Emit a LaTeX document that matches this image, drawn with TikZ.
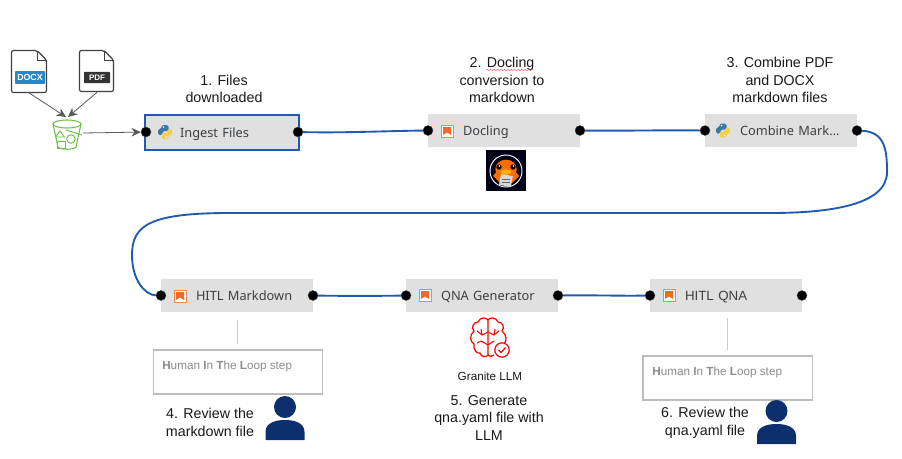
\documentclass[tikz,border=0pt]{standalone}
\usepackage{fontspec}
\usepackage{xcolor}
\setmainfont{Liberation Sans}
\newfontfamily\stepfont{Noto Sans}
\usetikzlibrary{arrows.meta,decorations.pathmorphing}

\definecolor{stepgray}{HTML}{E0E0E0}
\definecolor{steptext}{HTML}{3C3F42}
\definecolor{wireblue}{HTML}{1F5AB0}
\definecolor{bordergray}{HTML}{BDBDBD}
\definecolor{personblue}{HTML}{0C2F6E}
\definecolor{bucketgreen}{HTML}{6CC04A}
\definecolor{iconorange}{HTML}{EC6A2C}
\definecolor{pyblue}{HTML}{3B77A8}
\definecolor{pyyellow}{HTML}{F7CF45}
\definecolor{docxblue}{HTML}{2B86C5}

\tikzset{
  stepbox/.style={fill=stepgray, font=\stepfont\fontsize{9.6}{11}\selectfont, text=steptext,
    text width=114pt, minimum height=24.75pt, inner xsep=0pt, inner ysep=0pt, outer sep=0pt, align=left,
    text height=8pt, text depth=0pt, execute at begin node={\hspace*{26.25pt}}},
  port/.style={circle, fill=black, draw=black!70, line width=.3pt, minimum size=7.5pt, inner sep=0pt},
  wire/.style={draw=wireblue, line width=1.4pt},
  caption/.style={align=center, font=\fontsize{10.7}{13.2}\selectfont, text=black!90, inner sep=0pt},
  hitlbox/.style={draw=bordergray, line width=1pt, fill=white, minimum width=127pt, minimum height=33pt, inner sep=0pt},
  hitltext/.style={anchor=west, font=\fontsize{8.8}{10}\selectfont, text=black!45, inner sep=0pt},
  hitlline/.style={draw=black!20, line width=.7pt},
  filearrow/.style={draw=black!65, line width=.6pt, -{Stealth[length=7pt,width=6.5pt]}},
  fileicon/.style={minimum width=27pt, minimum height=32pt, inner sep=0pt, outer sep=0pt},
  pics/pyicon/.style={code={
    \foreach \c/\r in {pyblue/0,pyyellow/180}{
      \begin{scope}[rotate=\r]
      \fill[\c, rounded corners=1.2pt] (-3.5,-7) -- (3.5,-7) -- (3.5,-1) -- (-2.5,-1) -- (-2.5,3) -- (-7,3) -- (-7,-3) -- (-3.5,-3) -- cycle;
      \fill[white] (-1.5,-5) circle (.6pt);
      \end{scope}}
  }},
  pics/orangeicon/.style={code={
    \draw[iconorange!80!white, line width=.7pt, fill=white] (-6,-6) rectangle (6,6);
    \fill[iconorange] (-4,-4) -- (4,-4) -- (4,4) -- (0,1.5) -- (-4,4) -- cycle;
  }},
  pics/person/.style={code={
    \fill[personblue] (0,-16) circle (8.25pt);
    \fill[personblue] (-19.5,17) -- (-19.5,9) .. controls (-19.5,0) and (-10,-3) .. (0,-3) .. controls (10,-3) and (19.5,0) .. (19.5,9) -- (19.5,17) -- cycle;
  }},
}

\begin{document}
\begin{tikzpicture}[x=0.75pt,y=-0.75pt]
\useasboundingbox (0,0) rectangle (902,458);

% steps
\node[stepbox, draw=wireblue, line width=1.5pt, text width=115.5pt, minimum height=26.25pt] (ingest) at (222,132) {Ingest Files};
\node[stepbox] (docling) at (504,130.5) {Docling};
\node[stepbox] (combine) at (781,130.5) {Combine Mark\dots};
\node[stepbox] (hitlmd) at (237,295.5) {HITL Markdown};
\node[stepbox] (qna) at (482,295.5) {QNA Generator};
\node[stepbox, font=\fontsize{10}{11}\selectfont] (hitlqna) at (726,295.5) {HITL QNA};

% ports
\node[port] (ingestin) at (146,132) {};
\node[port] (ingestout) at (298,132) {};
\node[port] (doclingin) at (docling.west) {};
\node[port] (doclingout) at (docling.east) {};
\node[port] (combinein) at (combine.west) {};
\node[port] (combineout) at (combine.east) {};
\node[port] (hitlmdin) at (hitlmd.west) {};
\node[port] (hitlmdout) at (hitlmd.east) {};
\node[port] (qnain) at (qna.west) {};
\node[port] (qnaout) at (qna.east) {};
\node[port] (hitlqnain) at (hitlqna.west) {};
\node[port] (hitlqnaout) at (hitlqna.east) {};

% wires
\draw[wire] (ingestout) .. controls (345,133) and (385,131) .. (doclingin);
\draw[wire] (doclingout) .. controls (625,131) and (660,130) .. (combinein);
\draw[wire] (combineout) .. controls (885,132) and (887,150) .. (887,172) .. controls (887,205) and (830,213) .. (770,213) -- (230,213) .. controls (150,213) and (132,225) .. (132,255) .. controls (132,280) and (145,295) .. (hitlmdin);
\draw[wire] (hitlmdout) .. controls (345,296) and (375,296) .. (qnain);
\draw[wire] (qnaout) .. controls (590,295) and (620,296) .. (hitlqnain);

% icons in the steps
\pic at (165,132) {pyicon};
\pic at (723,130.5) {pyicon};
\pic at (447,131) {orangeicon};
\pic at (180,296) {orangeicon};
\pic at (425,295) {orangeicon};
\pic at (669,295) {orangeicon};

% files and bucket
\node[fileicon] (docxfile) at (29,71.5) {};
\node[fileicon] (pdffile) at (97,71) {};
\draw[black!75, line width=.9pt, rounded corners=1.5pt, fill=white] (11.5,50.5) -- (37,50.5) -- (46.5,60) -- (46.5,92.5) -- (11.5,92.5) -- cycle;
\draw[black!75, line width=.7pt] (37,50.5) -- (37,60) -- (46.5,60);
\node[fill=docxblue, text=white, font=\bfseries\fontsize{6.6}{7}\selectfont, inner sep=0pt, minimum width=22.5pt, minimum height=9.5pt, rounded corners=.6pt] (docxtag) at (30,77.5) {DOCX};
\draw[black!75, line width=.9pt, rounded corners=1.5pt, fill=white] (79.5,50.5) -- (104,50.5) -- (113.5,60) -- (113.5,91.5) -- (79.5,91.5) -- cycle;
\draw[black!75, line width=.7pt] (104,50.5) -- (104,60) -- (113.5,60);
\node[fill=black!80, text=white, font=\bfseries\fontsize{6}{7}\selectfont, inner sep=0pt, minimum width=19.5pt, minimum height=8.5pt, rounded corners=.6pt] (pdftag) at (97,77.5) {PDF};

\node[minimum width=22pt, minimum height=24pt, inner sep=0pt] (bucket) at (67,134) {};
\draw[bucketgreen, line width=.8pt] (67,124) ellipse (10.5pt and 3pt);
\draw[bucketgreen, line width=.8pt] (53,124) -- (58,147) .. controls (60,150) and (74,150) .. (76,147) -- (81,124);
\draw[bucketgreen, line width=.7pt] (60,131) -- (64.5,137) -- (55.5,137) -- cycle;
\draw[bucketgreen, line width=.7pt] (57,141) rectangle (65,148);
\draw[bucketgreen, line width=.7pt] (71,139) circle (3.2pt);
\draw[bucketgreen, line width=.7pt] (66,130) -- (82,135);

\coordinate (bucketin) at (66,117);
\coordinate (bucketpdf) at (68,117);
\coordinate (bucketout) at (83,133);
\draw[filearrow] (docxfile.south) -- (bucketin);
\draw[filearrow] (pdffile.south) -- (bucketpdf);
\draw[filearrow] (bucketout) -- (ingestin);

% captions
\node[caption] (capa) at (224,89) {1. Files\\downloaded};
\node[caption] (capb) at (502,80) {2. Docling\\conversion to\\markdown};
\node[caption] (capc) at (780,80) {3. Combine PDF\\and DOCX\\markdown files};
\node[caption] (capd) at (210,422.5) {4. Review the\\markdown file};
\node[caption] (cape) at (489,418) {5. Generate\\qna.yaml file with\\LLM};
\node[caption] (capf) at (705,423) {6. Review the\\qna.yaml file};
\draw[red!70!white, line width=.3pt, decorate, decoration={snake, amplitude=.5pt, segment length=2.6pt}] (486,70) -- (534,70);

% docling logo
\node[fill=black!90!blue, minimum width=30pt, minimum height=30.5pt, inner sep=0pt] (logo) at (506,170.5) {};
\draw[white, line width=.7pt] (506,171) circle (12pt);
\fill[orange!85!red] (506,169) ellipse (8pt and 7pt);
\fill[orange!85!red] (493,176) -- (506,160) -- (519,176) -- (512,183) -- (500,183) -- cycle;
\fill[black] (499,167) circle (2pt);
\fill[black] (513,167) circle (2pt);
\fill[white] (499.5,166) circle (.7pt);
\fill[white] (513.5,166) circle (.7pt);
\fill[orange!60!yellow] (506,172) ellipse (4pt and 2pt);
\fill[white!85!black, rotate around={-10:(506,180)}] (500,175) rectangle (512,186);
\draw[black!60, line width=.3pt] (502,179) -- (510,179) (502,182) -- (510,182);

% brain
\draw[red, line width=.9pt, line join=round] (488,320) .. controls (486,317) and (480,317) .. (478,322) .. controls (473,322) and (471,328) .. (474,331) .. controls (469,335) and (470,342) .. (474,344) .. controls (473,350) and (477,354) .. (480,353) .. controls (481,357) and (486,358) .. (488,355) -- cycle;
\draw[red, line width=.9pt, line join=round] (488,320) .. controls (490,317) and (496,317) .. (498,322) .. controls (503,322) and (505,328) .. (502,331) .. controls (507,335) and (507,341) .. (504,344) (494,355) .. controls (492,357) and (489,357) .. (488,355);
\draw[red, line width=.8pt] (488,332) -- (482,335) -- (477,331) (482,335) -- (481,329) (488,345) -- (481,341) -- (477,343);
\draw[red, line width=.8pt] (488,332) -- (494,335) -- (499,331) (494,335) -- (495,329) (488,345) -- (494,341);
\draw[red, line width=.9pt, fill=white] (502,350) circle (5.4pt);
\draw[red, line width=.9pt] (498.5,350) -- (501,352.5) -- (505.5,347.5);
\node[font=\fontsize{8.8}{10}\selectfont, text=black!90, inner sep=0pt] (granite) at (490,376) {Granite LLM};

% human in the loop
\coordinate (linea) at (237,320);
\coordinate (lineb) at (237,344);
\coordinate (linec) at (727,318);
\coordinate (lined) at (727,350);
\draw[hitlline] (linea) -- (lineb);
\draw[hitlline] (linec) -- (lined);
\node[hitlbox] (hitla) at (238,372) {};
\node[hitlbox] (hitlb) at (727.5,378) {};
\node[hitltext] (hitlta) at (162,366) {\textbf{H}uman \textbf{I}n \textbf{T}he \textbf{L}oop step};
\node[hitltext] (hitltb) at (652,372) {\textbf{H}uman \textbf{I}n \textbf{T}he \textbf{L}oop step};
\pic at (285,423) {person};
\pic at (776.5,427) {person};
\end{tikzpicture}
\end{document}
